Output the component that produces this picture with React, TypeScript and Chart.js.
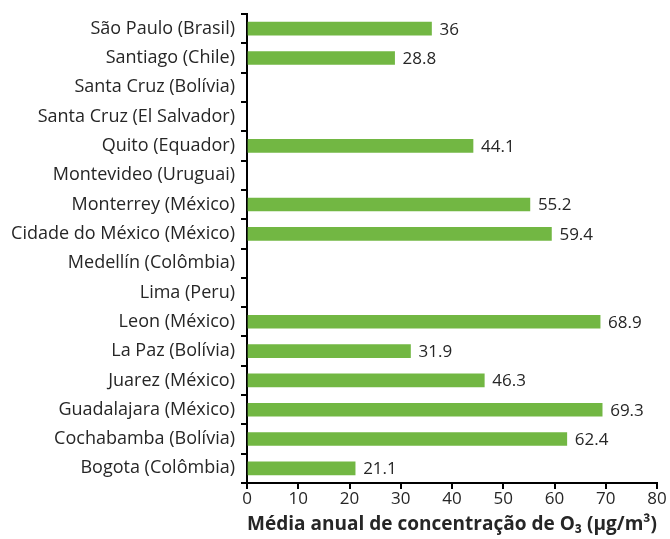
import React, { useEffect, useRef } from "react";
import { Chart, registerables } from "chart.js";
Chart.register(...registerables);

const cities = [
  "São Paulo (Brasil)",
  "Santiago (Chile)",
  "Santa Cruz (Bolívia)",
  "Santa Cruz (El Salvador)",
  "Quito (Equador)",
  "Montevideo (Uruguai)",
  "Monterrey (México)",
  "Cidade do México (México)",
  "Medellín (Colômbia)",
  "Lima (Peru)",
  "Leon (México)",
  "La Paz (Bolívia)",
  "Juarez (México)",
  "Guadalajara (México)",
  "Cochabamba (Bolívia)",
  "Bogota (Colômbia)",
];
const o3Values: (number | null)[] = [
  36, 28.8, null, null, 44.1, null, 55.2, 59.4, null, null, 68.9, 31.9, 46.3, 69.3, 62.4, 21.1,
];
const axisTitle = "Média anual de concentração de O₃ (µg/m³)";

const FONT = "'Open Sans', 'Noto Sans', sans-serif";
const TEXT = "#262626";

const valueLabels = {
  id: "valueLabels",
  afterDatasetsDraw(chart: any) {
    const ctx = chart.ctx;
    const meta = chart.getDatasetMeta(0);
    ctx.save();
    ctx.font = `17px ${FONT}`;
    ctx.fillStyle = TEXT;
    ctx.textAlign = "left";
    ctx.textBaseline = "middle";
    meta.data.forEach((el: any, i: number) => {
      const v = o3Values[i];
      if (v === null || v === undefined) return;
      ctx.fillText(String(v), el.x + 8, el.y + 1);
    });
    ctx.restore();
  },
};

export default function App() {
  const ref = useRef<HTMLCanvasElement>(null);
  useEffect(() => {
    document.body.style.margin = "0";
    const chart = new Chart(ref.current!, {
      type: "bar",
      data: {
        labels: cities,
        datasets: [
          {
            data: o3Values,
            backgroundColor: "#72b743",
            barThickness: 13,
          },
        ],
      },
      options: {
        indexAxis: "y",
        animation: false,
        responsive: false,
        maintainAspectRatio: false,
        layout: { padding: { top: 14, right: 13, left: 0, bottom: 0 } },
        plugins: { legend: { display: false }, tooltip: { enabled: false } },
        scales: {
          x: {
            min: 0,
            max: 80,
            ticks: { stepSize: 10, color: TEXT, font: { family: FONT, size: 17 }, padding: 0 },
            grid: {
              drawOnChartArea: false,
              drawTicks: true,
              tickLength: 6,
              color: "#000",
              lineWidth: 2,
            },
            border: { color: "#000", width: 2 },
            title: {
              display: true,
              text: axisTitle,
              color: TEXT,
              font: { family: FONT, size: 19.5, weight: "bold" },
              padding: { top: 0, bottom: 3 },
            },
            afterFit: (s: any) => {
              s.height = 56;
            },
          },
          y: {
            ticks: { color: TEXT, font: { family: FONT, size: 18 }, padding: 6, autoSkip: false },
            grid: {
              drawOnChartArea: false,
              drawTicks: true,
              tickLength: 6,
              color: "#000",
              lineWidth: 2,
              offset: true,
            },
            border: { color: "#000", width: 2 },
            afterFit: (s: any) => {
              s.width = 247;
              s.paddingTop = 0;
              s.paddingBottom = 0;
            },
          },
        },
      },
      plugins: [valueLabels],
    });
    return () => chart.destroy();
  }, []);
  return (
    <div style={{ width: 670, height: 539 }}>
      <canvas ref={ref} width={670} height={539} />
    </div>
  );
}
